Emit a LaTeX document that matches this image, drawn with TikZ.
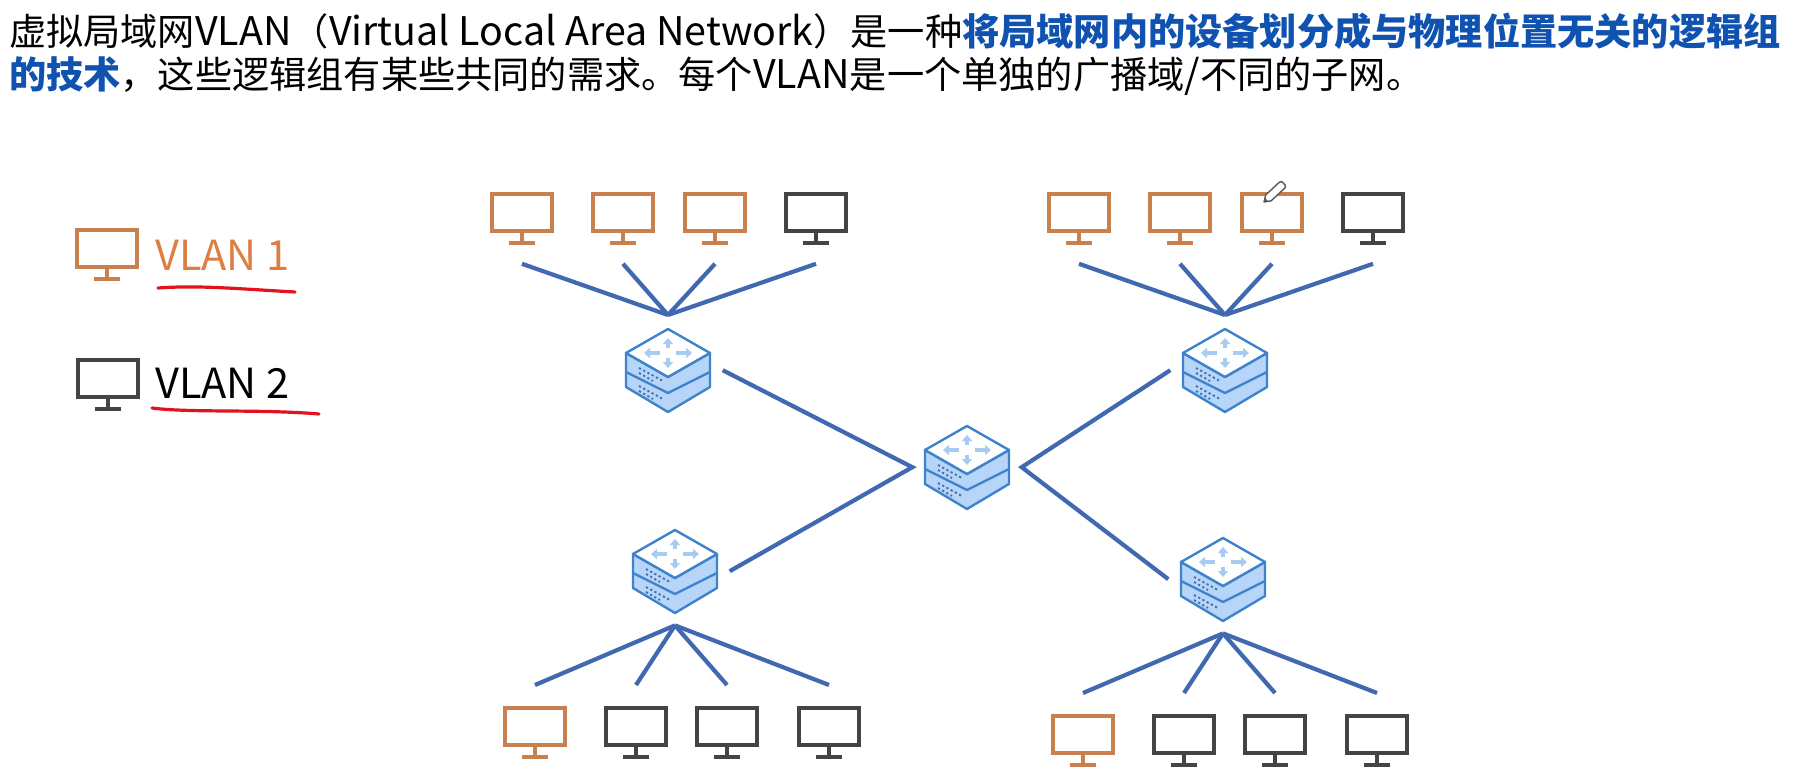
\documentclass[tikz,border=0pt]{standalone}
\usepackage{fontspec}
\setmainfont{Noto Sans CJK SC}
\usetikzlibrary{calc,arrows.meta}
\definecolor{vlanA}{HTML}{C8804F}
\definecolor{vlanB}{HTML}{444444}
\definecolor{labelA}{HTML}{DE7E43}
\definecolor{linkblue}{HTML}{4169B2}
\definecolor{headblue}{HTML}{0F52B0}
\definecolor{inkred}{HTML}{E0141E}
\definecolor{boxedge}{HTML}{3F83CC}
\definecolor{boxfill}{HTML}{B7D5F8}
\definecolor{boxarrow}{HTML}{A8CBF2}
\definecolor{boxdots}{HTML}{3A6FB0}
% Latin runs in the heading are set a little larger than the Chinese around them
\newcommand{\lat}[1]{{\fontsize{39.4}{44}\selectfont #1}}
\tikzset{
  screen/.style={draw=#1,line width=3.8pt,fill=white,rectangle,inner sep=0pt,minimum width=60pt,minimum height=37pt,anchor=north},
  stand/.style={draw=#1,line width=3.8pt},
  link/.style={draw=linkblue,line width=4.2pt},
  scribble/.style={draw=inkred,line width=3.2pt,line cap=round},
  headline/.style={anchor=base west,inner sep=0pt,font=\fontsize{37.2}{44}\selectfont},
  legendtext/.style={anchor=base west,inner sep=0pt,font=\fontsize{41.5}{46}\selectfont},
  routerbox/.style={rectangle,inner sep=0pt,minimum width=85pt,minimum height=84pt,anchor=north}
}
% Monitor icon: #1 name, #2 centre x, #3 top y, #4 colour; port below or above for its link
\newcommand{\monitor}[4]{%
  \node[screen=#4] (#1) at (#2,#3) {};
  \draw[stand=#4] (#1.south) -- ++(0,10) ++(-13,0) -- ++(26,0);
  \coordinate (#1-low) at ($(#1.south)+(0,31)$);
  \coordinate (#1-high) at ($(#1.north)+(0,-21)$);
}
% Stacked switch icon: #1 name, #2 centre x, #3 top y
\newcommand{\router}[3]{%
  \node[routerbox] (#1) at (#2,#3) {};
  \begin{scope}[shift={(#2,#3)}]
    \draw[boxedge,line width=2.4pt,fill=boxfill,line join=round]
      (-42,25) -- (-42,59) -- (0,84) -- (42,59) -- (42,25) -- (0,49) -- cycle;
    \draw[boxedge,line width=2.4pt,line join=round] (-42,44) -- (0,65) -- (42,44);
    \draw[boxedge,line width=2.4pt,fill=white,line join=round]
      (0,1) -- (42,25) -- (0,49) -- (-42,25) -- cycle;
    \draw[boxarrow,line width=3.6pt,-{Triangle[length=6pt,width=10pt]}] (0,20) -- (0,10);
    \draw[boxarrow,line width=3.6pt,-{Triangle[length=6pt,width=10pt]}] (0,30) -- (0,40);
    \draw[boxarrow,line width=3.6pt,-{Triangle[length=6pt,width=10pt]}] (-8,25) -- (-24,25);
    \draw[boxarrow,line width=3.6pt,-{Triangle[length=6pt,width=10pt]}] (8,25) -- (24,25);
    \foreach \off in {0,18}{
      \draw[boxdots,line width=1.8pt,dash pattern=on 2.2pt off 2.6pt] (-29,40+\off) -- (-5,53+\off);
      \draw[boxdots,line width=1.8pt,dash pattern=on 2.2pt off 2.6pt] (-29,45+\off) -- (-15,53+\off);
    }
  \end{scope}
  \coordinate (#1-up) at ($(#1.north)+(0,-13)$);
  \coordinate (#1-down) at ($(#1.south)+(0,12)$);
  \coordinate (#1-west) at ($(#1.west)+(-12,0)$);
  \coordinate (#1-east) at ($(#1.east)+(12,0)$);
}
\begin{document}
\begin{tikzpicture}[x=1pt,y=-1pt]
  \useasboundingbox (0,0) rectangle (1816,778);
  \fill[white] (0,0) rectangle (1816,778);

  % Heading
  \node[headline] (head1) at (9,46) {虚拟局域网\lat{VLAN}（\lat{Virtual Local Area Network}）是一种\textcolor{headblue}{\bfseries 将局域网内的设备划分成与物理位置无关的逻辑组}};
  \node[headline] (head2) at (9,89) {\textcolor{headblue}{\bfseries 的技术}，这些逻辑组有某些共同的需求。每个\lat{VLAN}是一个单独的广播域\lat{/}不同的子网。};

  % Legend
  \monitor{legendA}{107}{228}{vlanA}
  \monitor{legendB}{108}{358}{vlanB}
  \node[legendtext,text=labelA] (labelOne) at (155,270) {VLAN 1};
  \node[legendtext,text=black] (labelTwo) at (155,398) {VLAN 2};
  \draw[scribble] (158,288) .. controls (200,285) and (240,289) .. (295,292);
  \draw[scribble] (152,408) .. controls (190,413) and (260,409) .. (319,414);

  % Switches
  \router{swTL}{668}{328}
  \router{swTR}{1225}{328}
  \router{swC}{967}{425}
  \router{swBL}{675}{529}
  \router{swBR}{1223}{537}

  % Hosts on the upper left switch
  \monitor{a1}{522}{192}{vlanA}
  \monitor{a2}{623}{192}{vlanA}
  \monitor{a3}{715}{192}{vlanA}
  \monitor{a4}{816}{192}{vlanB}
  % Hosts on the upper right switch
  \monitor{b1}{1079}{192}{vlanA}
  \monitor{b2}{1180}{192}{vlanA}
  \monitor{b3}{1272}{192}{vlanA}
  \monitor{b4}{1373}{192}{vlanB}
  % Hosts on the lower left switch
  \monitor{c1}{535}{706}{vlanA}
  \monitor{c2}{636}{706}{vlanB}
  \monitor{c3}{727}{706}{vlanB}
  \monitor{c4}{829}{706}{vlanB}
  % Hosts on the lower right switch
  \monitor{d1}{1083}{714}{vlanA}
  \monitor{d2}{1184}{714}{vlanB}
  \monitor{d3}{1275}{714}{vlanB}
  \monitor{d4}{1377}{714}{vlanB}

  % Links
  \foreach \h in {a1,a2,a3,a4}{\draw[link] (\h-low) -- (swTL-up);}
  \foreach \h in {b1,b2,b3,b4}{\draw[link] (\h-low) -- (swTR-up);}
  \foreach \h in {c1,c2,c3,c4}{\draw[link] (\h-high) -- (swBL-down);}
  \foreach \h in {d1,d2,d3,d4}{\draw[link] (\h-high) -- (swBR-down);}
  \draw[link] (swTL-east) -- (swC-west) -- (swBL-east);
  \draw[link] (swTR-west) -- (swC-east) -- (swBR-west);

  % Pen cursor
  \begin{scope}[shift={(1264,202)},rotate=43]
    \draw[gray!70!black,line width=1.4pt,fill=white,line join=round]
      (0,0) -- (6,-4) -- (25,-4) -- (27,-2.5) -- (27,2.5) -- (25,4) -- (6,4) -- cycle;
    \fill[gray!70!black] (0,0) -- (3.5,-2.2) -- (3.5,2.2) -- cycle;
  \end{scope}
\end{tikzpicture}
\end{document}
